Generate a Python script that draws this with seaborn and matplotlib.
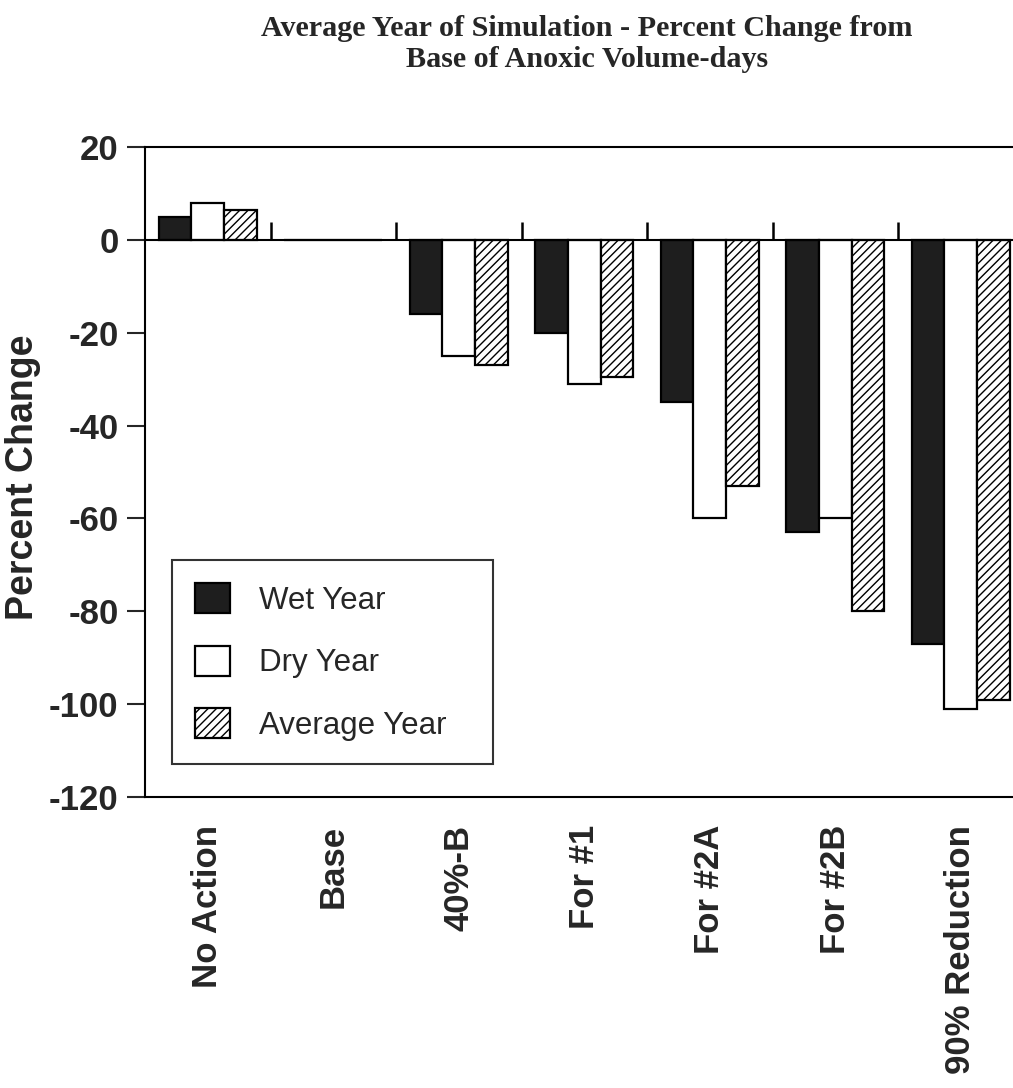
import numpy as np
import pandas as pd

import matplotlib
matplotlib.use("Agg")
import matplotlib.pyplot as plt
import seaborn as sns

# values (percent change from base)
scenarios = ["No Action", "Base", "40%-B", "For #1", "For #2A", "For #2B", "90% Reduction"]
wet_year = [5, 0, -16, -20, -35, -63, -87]
dry_year = [8, 0, -25, -31, -60, -60, -101]
avg_year = [6.5, 0, -27, -29.5, -53, -80, -99]
series_names = ["Wet Year", "Dry Year", "Average Year"]
y_ticks = [20, 0, -20, -40, -60, -80, -100, -120]

df = pd.DataFrame({
    "scenario": scenarios * 3,
    "series": np.repeat(series_names, len(scenarios)),
    "pct": wet_year + dry_year + avg_year,
})

sns.set_style("ticks")
plt.rcParams["font.family"] = ["Liberation Sans", "DejaVu Sans"]
plt.rcParams["hatch.linewidth"] = 1.0

fig = plt.figure(figsize=(10.13, 10.88), dpi=100)
ax = fig.add_axes([145 / 1013, 1 - 797 / 1088, 878.5 / 1013, 650 / 1088])

sns.barplot(data=df, x="scenario", y="pct", hue="series", order=scenarios,
            hue_order=series_names, palette=["#1e1e1e", "white", "white"],
            edgecolor="black", linewidth=1.6, width=0.78, saturation=1,
            legend=False, ax=ax)

for bar in ax.containers[2]:
    bar.set_hatch("////")

ax.set_xlim(-0.5, len(scenarios) - 0.5)
ax.set_ylim(-120, 20)
ax.set_yticks(y_ticks)
ax.set_yticklabels([str(t) for t in y_ticks], fontsize=25, fontweight="bold")
ax.tick_params(axis="y", direction="out", length=13, width=1.5, pad=6)
ax.set_xticks(range(len(scenarios)))
ax.set_xticklabels(scenarios, rotation=90, fontsize=25, fontweight="bold")
ax.tick_params(axis="x", length=0, pad=20)
ax.set_xlabel("")
ax.set_ylabel("Percent Change", fontsize=27, fontweight="bold")
ax.yaxis.set_label_coords(-0.118, 0.492)

for side in ["left", "top", "bottom", "right"]:
    ax.spines[side].set_linewidth(1.5)
    ax.spines[side].set_color("black")

# zero line with small category separators
ax.axhline(0, color="black", lw=1.5, zorder=1)
ax.vlines(np.arange(len(scenarios) - 1) + 0.5, 0, 3.9, color="black", lw=1.8, zorder=1)

leg = ax.legend(ax.containers, series_names, loc="upper left",
                bbox_to_anchor=(0.0307, 0.057, 321 / 878.5, 0.3076),
                mode="expand", fontsize=22.5, frameon=True,
                fancybox=False, edgecolor="black", handlelength=1.1,
                handleheight=1.1, handletextpad=0.95, labelspacing=0.95,
                borderpad=0.75, borderaxespad=0)
leg.get_frame().set_linewidth(1.5)

fig.text(587 / 1013, 1 - 15 / 1088,
         "Average Year of Simulation - Percent Change from\nBase of Anoxic Volume-days",
         ha="center", va="top", fontsize=21.7, fontweight="bold",
         family=["Liberation Serif", "DejaVu Serif"], linespacing=1.2)

fig.savefig("out.png", dpi=100)
